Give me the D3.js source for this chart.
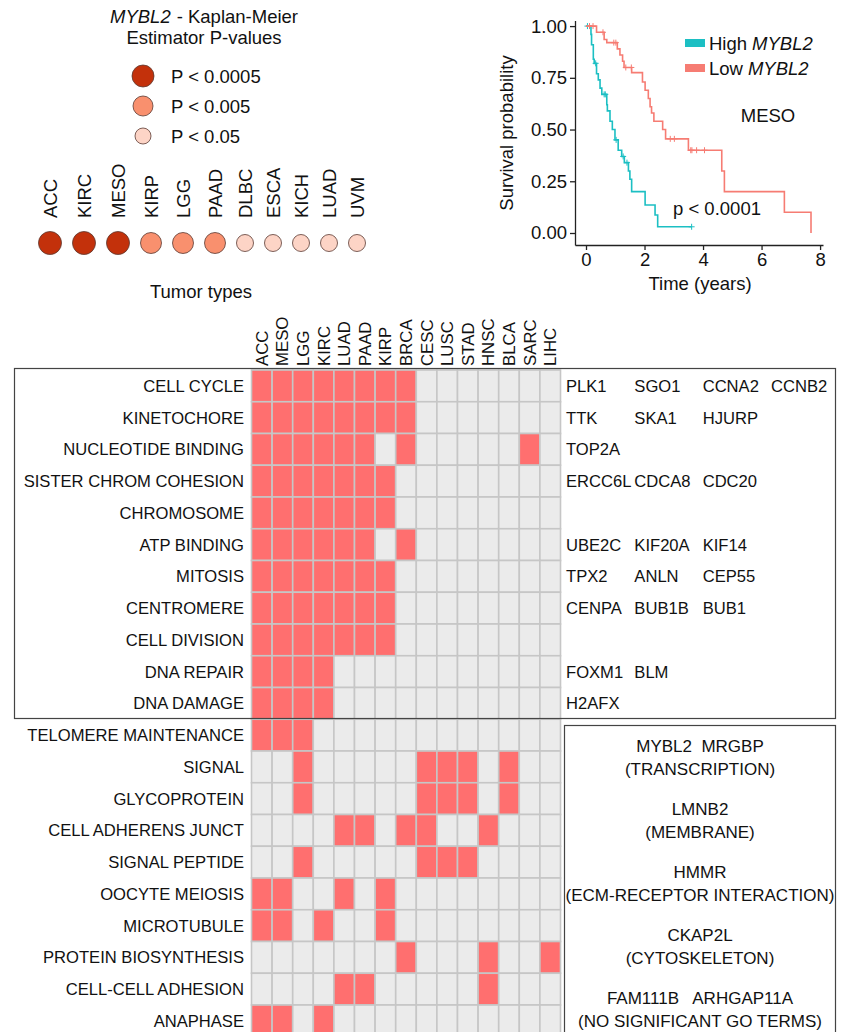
<!DOCTYPE html>
<html>
<head>
<meta charset="utf-8">
<script src="https://cdn.jsdelivr.net/npm/d3@7"></script>
<style>
body { margin: 0; background: #fff; }
text { font-family: "Liberation Sans", Arial, sans-serif; fill: #111; }
</style>
</head>
<body>
<script>
var width = 842, height = 1032;

// tumor types with KM p-value level (3: P<0.0005, 2: P<0.005, 1: P<0.05)
var tumorTypes = ['ACC', 'KIRC', 'MESO', 'KIRP', 'LGG', 'PAAD', 'DLBC', 'ESCA', 'KICH', 'LUAD', 'UVM'];
var tumorLevels = [3, 3, 3, 2, 2, 2, 1, 1, 1, 1, 1];
var levelLabels = ['P < 0.0005', 'P < 0.005', 'P < 0.05'];
var levelValues = [3, 2, 1];

// Kaplan-Meier curves for MESO (step times in years, survival after step)
var highTime = [0, 0.17, 0.19, 0.25, 0.28, 0.36, 0.42, 0.48, 0.54, 0.71, 0.73, 0.82, 0.90, 0.99, 1.10, 1.22, 1.31, 1.45, 1.50, 1.56, 1.65, 2.02, 2.36, 2.45, 3.61];
var highSurv = [1, 0.96, 0.91, 0.84, 0.82, 0.77, 0.74, 0.70, 0.67, 0.62, 0.59, 0.54, 0.50, 0.45, 0.40, 0.37, 0.34, 0.30, 0.26, 0.20, 0.20, 0.135, 0.087, 0.03, 0.03];
var highCensor = [0.05, 0.33, 0.62, 0.66, 1.03, 1.27, 1.40, 3.61];
var lowTime = [0, 0.36, 0.62, 0.71, 1.07, 1.16, 1.25, 1.30, 1.56, 1.93, 2.02, 2.13, 2.19, 2.24, 2.32, 2.62, 2.72, 3.50, 4.64, 4.73, 6.78, 7.69];
var lowSurv = [1, 0.97, 0.935, 0.92, 0.89, 0.86, 0.83, 0.80, 0.775, 0.73, 0.69, 0.65, 0.61, 0.58, 0.54, 0.50, 0.455, 0.40, 0.30, 0.20, 0.10, 0];
var lowCensor = [0.12, 0.24, 0.58, 0.95, 1.02, 1.36, 1.55, 2.88, 3.02, 3.58, 3.62, 3.78, 4.05];
var yTicks = [0, 0.25, 0.5, 0.75, 1];
var xTicks = [0, 2, 4, 6, 8];

// heatmap of enriched GO terms
var columns = ['ACC', 'MESO', 'LGG', 'KIRC', 'LUAD', 'PAAD', 'KIRP', 'BRCA', 'CESC', 'LUSC', 'STAD', 'HNSC', 'BLCA', 'SARC', 'LIHC'];
var terms = ['CELL CYCLE', 'KINETOCHORE', 'NUCLEOTIDE BINDING', 'SISTER CHROM COHESION', 'CHROMOSOME', 'ATP BINDING', 'MITOSIS', 'CENTROMERE', 'CELL DIVISION', 'DNA REPAIR', 'DNA DAMAGE', 'TELOMERE MAINTENANCE', 'SIGNAL', 'GLYCOPROTEIN', 'CELL ADHERENS JUNCT', 'SIGNAL PEPTIDE', 'OOCYTE MEIOSIS', 'MICROTUBULE', 'PROTEIN BIOSYNTHESIS', 'CELL-CELL ADHESION', 'ANAPHASE'];
var hits = [
	[1,1,1,1,1,1,1,1,0,0,0,0,0,0,0],
	[1,1,1,1,1,1,1,1,0,0,0,0,0,0,0],
	[1,1,1,1,1,1,0,1,0,0,0,0,0,1,0],
	[1,1,1,1,1,1,1,0,0,0,0,0,0,0,0],
	[1,1,1,1,1,1,1,0,0,0,0,0,0,0,0],
	[1,1,1,1,1,1,0,1,0,0,0,0,0,0,0],
	[1,1,1,1,1,1,1,0,0,0,0,0,0,0,0],
	[1,1,1,1,1,1,1,0,0,0,0,0,0,0,0],
	[1,1,1,1,1,1,1,0,0,0,0,0,0,0,0],
	[1,1,1,1,0,0,0,0,0,0,0,0,0,0,0],
	[1,1,1,1,0,0,0,0,0,0,0,0,0,0,0],
	[1,1,1,0,0,0,0,0,0,0,0,0,0,0,0],
	[0,0,1,0,0,0,0,0,1,1,1,0,1,0,0],
	[0,0,1,0,0,0,0,0,1,1,1,0,1,0,0],
	[0,0,0,0,1,1,0,1,1,0,0,1,0,0,0],
	[0,0,1,0,0,0,0,0,1,1,1,0,0,0,0],
	[1,1,0,0,1,0,1,0,0,0,0,0,0,0,0],
	[1,1,0,1,0,0,1,0,0,0,0,0,0,0,0],
	[0,0,0,0,0,0,0,1,0,0,0,1,0,0,1],
	[0,0,0,0,1,1,0,0,0,0,0,1,0,0,0],
	[1,1,0,1,0,0,0,0,0,0,0,0,0,0,0]
];
var genes = [
	['PLK1', 'SGO1', 'CCNA2', 'CCNB2'],
	['TTK', 'SKA1', 'HJURP'],
	['TOP2A'],
	['ERCC6L', 'CDCA8', 'CDC20'],
	[],
	['UBE2C', 'KIF20A', 'KIF14'],
	['TPX2', 'ANLN', 'CEP55'],
	['CENPA', 'BUB1B', 'BUB1'],
	[],
	['FOXM1', 'BLM'],
	['H2AFX']
];
var otherGenes = ['MYBL2  MRGBP', 'LMNB2', 'HMMR', 'CKAP2L', 'FAM111B   ARHGAP11A'];
var otherTerms = ['(TRANSCRIPTION)', '(MEMBRANE)', '(ECM-RECEPTOR INTERACTION)', '(CYTOSKELETON)', '(NO SIGNIFICANT GO TERMS)'];

var svg = d3.select('body').append('svg')
	.attr('width', width)
	.attr('height', height);
svg.append('rect').attr('width', width).attr('height', height).style('fill', '#fff');

//---------- P-value dot panel ----------
var levelColor = d3.scaleOrdinal().domain([3, 2, 1]).range(['#c3310b', '#f9906e', '#fdd4c6']);
var levelRadius = d3.scaleOrdinal().domain([3, 2, 1]).range([11.5, 10.5, 8.5]);

//Title: italic gene name and the rest as two texts placed side by side, centred together.
var t1 = svg.append('text').attr('y', 22.5).style('font-size', '18.5px').style('font-style', 'italic').text('MYBL2');
var t2 = svg.append('text').attr('y', 22.5).style('font-size', '18.5px').text('- Kaplan-Meier');
var w1 = t1.node().getComputedTextLength(), w2 = t2.node().getComputedTextLength(), sp = 6;
t1.attr('x', 204 - (w1 + sp + w2) / 2);
t2.attr('x', 204 - (w1 + sp + w2) / 2 + w1 + sp);
svg.append('text').attr('x', 204).attr('y', 44).attr('text-anchor', 'middle').style('font-size', '18.5px').text('Estimator P-values');

var legendY = d3.scalePoint().domain(levelValues).range([76, 136]);
var lg = svg.append('g');
lg.selectAll('circle').data(levelValues).enter().append('circle')
	.attr('cx', 143)
	.attr('cy', function(d) { return legendY(d); })
	.attr('r', function(d) { return levelRadius(d) - 0.5; })
	.style('fill', function(d) { return levelColor(d); })
	.style('stroke', '#5a3a32')
	.style('stroke-width', 0.8);
lg.selectAll('text').data(levelValues).enter().append('text')
	.attr('x', 171)
	.attr('y', function(d) { return legendY(d); })
	.attr('dy', '0.36em')
	.style('font-size', '18.5px')
	.text(function(d, i) { return levelLabels[i]; });

//Dots are packed by size: cumulative offsets built from the radii.
var gap = 11, offsets = [], acc = 0;
tumorLevels.forEach(function(l, i) {
	if (i > 0) acc += levelRadius(tumorLevels[i - 1]) + levelRadius(l) + gap;
	offsets.push(acc);
});
var dotX = d3.scaleLinear().domain([0, acc]).range([50, 357]);
var dots = svg.append('g');
dots.selectAll('circle').data(tumorTypes).enter().append('circle')
	.attr('cx', function(d, i) { return dotX(offsets[i]); })
	.attr('cy', 243)
	.attr('r', function(d, i) { return levelRadius(tumorLevels[i]); })
	.style('fill', function(d, i) { return levelColor(tumorLevels[i]); })
	.style('stroke', '#5a3a32')
	.style('stroke-width', 0.8);
dots.selectAll('text').data(tumorTypes).enter().append('text')
	.attr('transform', function(d, i) { return 'translate(' + dotX(offsets[i]) + ',218) rotate(-90)'; })
	.attr('dy', '0.36em')
	.style('font-size', '18.5px')
	.text(function(d) { return d; });
svg.append('text').attr('x', 201).attr('y', 298).attr('text-anchor', 'middle').style('font-size', '18.5px').text('Tumor types');

//---------- Kaplan-Meier panel ----------
var kx = d3.scaleLinear().domain([-0.376, 8.1]).range([575, 823]);
var ky = d3.scaleLinear().domain([-0.058, 1.027]).range([245, 20.5]);
var km = svg.append('g');
km.append('g').attr('transform', 'translate(575,0)')
	.call(d3.axisLeft(ky).tickValues(yTicks).tickFormat(d3.format('.2f')).tickSize(5).tickSizeOuter(0))
	.call(styleAxis);
km.append('g').attr('transform', 'translate(0,245)')
	.call(d3.axisBottom(kx).tickValues(xTicks).tickSize(5).tickSizeOuter(0))
	.call(styleAxis);
function styleAxis(g) {
	g.selectAll('path, line').style('stroke', '#222').style('stroke-width', 1.3);
	g.selectAll('text').style('font-size', '18.5px').style('fill', '#111').attr('font-family', null);
}
km.append('text').attr('transform', 'translate(513,133) rotate(-90)').attr('text-anchor', 'middle')
	.style('font-size', '18.5px').text('Survival probability');
km.append('text').attr('x', 700).attr('y', 290).attr('text-anchor', 'middle')
	.style('font-size', '18.5px').text('Time (years)');

var stepLine = d3.line().x(function(d) { return kx(d[0]); }).y(function(d) { return ky(d[1]); }).curve(d3.curveStepAfter);
function survAt(times, survs, t) {
	var s = survs[0];
	for (var i = 0; i < times.length; i++) if (times[i] <= t) s = survs[i];
	return s;
}
var curves = [
	{time: highTime, surv: highSurv, censor: highCensor, color: '#1cbfc3'},
	{time: lowTime, surv: lowSurv, censor: lowCensor, color: '#f67c73'}
];
curves.forEach(function(c) {
	km.append('path').attr('d', stepLine(d3.zip(c.time, c.surv)))
		.style('fill', 'none').style('stroke', c.color).style('stroke-width', 1.6);
	km.selectAll(null).data(c.censor).enter().append('path')
		.attr('d', function(t) {
			var x = kx(t), y = ky(survAt(c.time, c.surv, t));
			return 'M' + (x - 3) + ',' + y + 'H' + (x + 3) + 'M' + x + ',' + (y - 3) + 'V' + (y + 3);
		})
		.style('stroke', c.color).style('stroke-width', 1);
});
var kmLegend = [['High', '#1cbfc3'], ['Low', '#f67c73']];
kmLegend.forEach(function(l, i) {
	km.append('rect').attr('x', 685).attr('y', 39 + i * 25).attr('width', 20).attr('height', 8).style('fill', l[1]);
	var a = km.append('text').attr('x', 709).attr('y', 49.5 + i * 25).style('font-size', '18.5px').text(l[0]);
	km.append('text').attr('x', 709 + a.node().getComputedTextLength() + 5).attr('y', 49.5 + i * 25)
		.style('font-size', '18.5px').style('font-style', 'italic').text('MYBL2');
});
km.append('text').attr('x', 768).attr('y', 122).attr('text-anchor', 'middle').style('font-size', '18.5px').text('MESO');
km.append('text').attr('x', 673).attr('y', 215).style('font-size', '18.5px').text('p < 0.0001');

//---------- GO term heatmap ----------
var colW = 20.6, rowH = 31.75;
var hx = d3.scaleBand().domain(columns).range([251.5, 251.5 + colW * columns.length]);
var hy = d3.scaleBand().domain(terms).range([370, 370 + rowH * terms.length]);
var hm = svg.append('g');
terms.forEach(function(term, r) {
	hm.selectAll(null).data(hits[r]).enter().append('rect')
		.attr('x', function(d, c) { return hx(columns[c]); })
		.attr('y', hy(term))
		.attr('width', hx.bandwidth())
		.attr('height', hy.bandwidth())
		.style('fill', function(d) { return d ? '#ff6f6f' : '#ebebeb'; })
		.style('stroke', '#c6c6c6')
		.style('stroke-width', 1.6);
});
hm.selectAll('.colLab').data(columns).enter().append('text')
	.attr('class', 'colLab')
	.attr('transform', function(d) { return 'translate(' + (hx(d) + hx.bandwidth() / 2) + ',366) rotate(-90)'; })
	.attr('dy', '0.36em')
	.style('font-size', '16.8px')
	.text(function(d) { return d; });
hm.selectAll('.rowLab').data(terms).enter().append('text')
	.attr('class', 'rowLab')
	.attr('x', 244)
	.attr('y', function(d) { return hy(d) + hy.bandwidth() / 2; })
	.attr('dy', '0.36em')
	.attr('text-anchor', 'end')
	.style('font-size', '16.6px')
	.text(function(d) { return d; });

//gene lists beside the first block of terms
var geneX = d3.scalePoint().domain([0, 1, 2, 3]).range([566, 771]);
genes.forEach(function(list, r) {
	hm.selectAll(null).data(list).enter().append('text')
		.attr('x', function(d, i) { return geneX(i); })
		.attr('y', hy(terms[r]) + hy.bandwidth() / 2)
		.attr('dy', '0.36em')
		.style('font-size', '16.6px')
		.text(function(d) { return d; });
});

//frames
svg.append('rect').attr('x', 14.5).attr('y', 368.5).attr('width', 821).attr('height', 350)
	.style('fill', 'none').style('stroke', '#444').style('stroke-width', 1.2);
svg.append('rect').attr('x', 564.5).attr('y', 725.5).attr('width', 271).attr('height', 320)
	.style('fill', 'none').style('stroke', '#444').style('stroke-width', 1.2);

var groupY = d3.scalePoint().domain(d3.range(otherGenes.length)).range([746, 998]);
otherGenes.forEach(function(g, i) {
	svg.append('text').attr('x', 700).attr('y', groupY(i)).attr('dy', '0.36em')
		.attr('text-anchor', 'middle').style('font-size', '17px').style('white-space', 'pre').text(g);
	svg.append('text').attr('x', 700).attr('y', groupY(i) + 23).attr('dy', '0.36em')
		.attr('text-anchor', 'middle').style('font-size', '17px').text(otherTerms[i]);
});
</script>
</body>
</html>
